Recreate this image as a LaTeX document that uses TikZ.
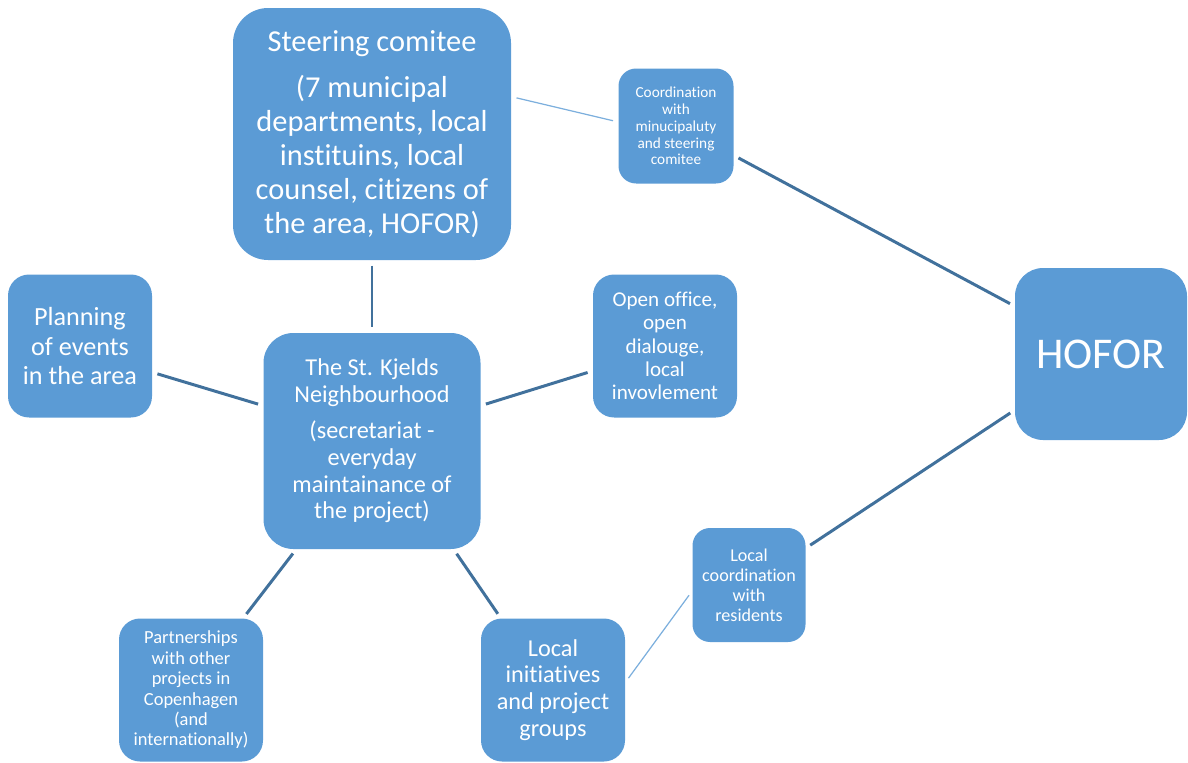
\documentclass[tikz,border=0pt]{standalone}
\usepackage{fontspec}
\setmainfont{Carlito}[Ligatures={NoCommon,NoContextual}]
\usetikzlibrary{positioning}

\definecolor{boxblue}{HTML}{5B9BD5}
\definecolor{linkdark}{HTML}{41719C}

\tikzset{
    box/.style={rectangle, fill=boxblue, text=white, align=center, inner sep=0pt},
    link/.style={color=linkdark, line width=1.7pt, shorten >=3pt, shorten <=3pt},
    thinlink/.style={color=boxblue!80!white, line width=0.7pt, shorten >=3pt, shorten <=3pt}
}

\begin{document}
\begin{tikzpicture}[on grid]
    \useasboundingbox (0,0) rectangle (23.76,-15.24);

    \node[box, minimum width=4.34cm, minimum height=4.32cm, rounded corners=17pt,
          font=\fontsize{13.8}{15.3}\selectfont] (ctr) at (7.44,-8.82)
        {The St. Kjelds\\Neighbourhood\\[5pt](secretariat -\\everyday\\maintainance of\\the project)};
    \node[box, minimum width=5.56cm, minimum height=5.04cm, rounded corners=20pt,
          font=\fontsize{17.3}{19.3}\selectfont] (steer) [above=6.14cm of ctr]
        {Steering comitee\\[7pt](7 municipal\\departments, local\\instituins, local\\counsel, citizens of\\the area, HOFOR)};
    \node[box, minimum width=2.30cm, minimum height=2.30cm, rounded corners=10pt,
          font=\fontsize{8.7}{9.6}\selectfont] (coord) [above right=6.30cm and 6.08cm of ctr]
        {Coordination\\with\\minucipaluty\\and steering\\comitee};
    \node[box, minimum width=3.44cm, minimum height=3.44cm, rounded corners=16pt,
          font=\fontsize{25}{30}\selectfont] (hofor) [above right=1.74cm and 14.58cm of ctr]
        {HOFOR};
    \node[box, minimum width=2.88cm, minimum height=2.86cm, rounded corners=12pt,
          font=\fontsize{14.9}{17}\selectfont] (plan) [above left=1.90cm and 5.84cm of ctr]
        {Planning\\of events\\in the area};
    \node[box, minimum width=2.88cm, minimum height=2.86cm, rounded corners=12pt,
          font=\fontsize{12}{13.3}\selectfont] (open) [above right=1.90cm and 5.86cm of ctr]
        {Open office,\\open\\dialouge,\\local\\invovlement};
    \node[box, minimum width=2.88cm, minimum height=2.86cm, rounded corners=12pt,
          font=\fontsize{10.5}{11.6}\selectfont] (partner) [below left=4.98cm and 3.62cm of ctr]
        {Partnerships\\with other\\projects in\\Copenhagen\\(and\\internationally)};
    \node[box, minimum width=2.88cm, minimum height=2.86cm, rounded corners=12pt,
          font=\fontsize{13.8}{15.3}\selectfont] (local) [below right=4.98cm and 3.62cm of ctr]
        {Local\\initiatives\\and project\\groups};
    \node[box, minimum width=2.26cm, minimum height=2.28cm, rounded corners=10pt,
          font=\fontsize{10.3}{11.3}\selectfont] (lcoord) [below right=2.88cm and 7.54cm of ctr]
        {Local\\coordination\\with\\residents};

    \path[link]
    (steer.south) edge (ctr.north)
    (plan.-20) edge (ctr.162)
    (ctr.18) edge (open.-161)
    (ctr.-125) edge (partner.54)
    (ctr.-53) edge (local.126)
    (coord.-27) edge (hofor.151)
    (hofor.-147) edge (lcoord.33);

    \path[thinlink]
    (steer.15) edge (coord.176)
    (local.6) edge (lcoord.186);
\end{tikzpicture}
\end{document}
